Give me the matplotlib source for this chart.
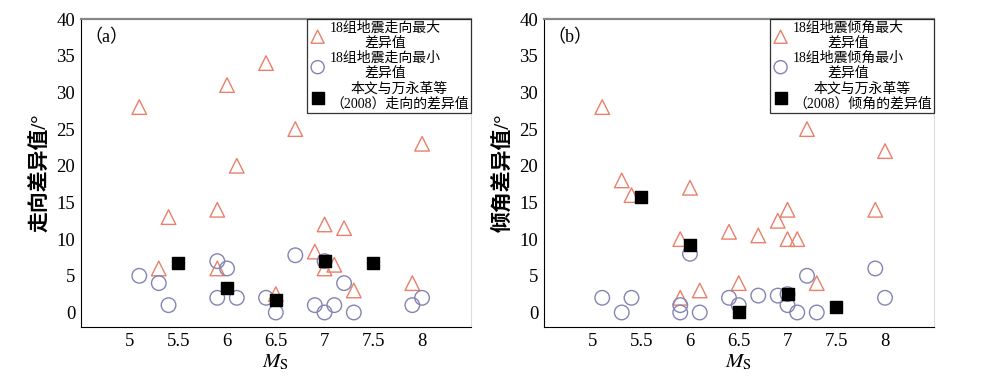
import numpy as np
import matplotlib
matplotlib.use("Agg")
import matplotlib.pyplot as plt

plt.rcParams['font.family'] = ['Liberation Serif', 'Noto Sans CJK SC']
plt.rcParams['mathtext.fontset'] = 'stix'

# 18 earthquakes magnitudes
ms = [5.1, 5.3, 5.4, 5.9, 5.9, 6.0, 6.1, 6.4, 6.5, 6.7, 6.9, 7.0, 7.0, 7.1, 7.2, 7.3, 7.9, 8.0]

# (a) strike
strike_max = [28, 6, 13, 14, 6, 31, 20, 34, 2.5, 25, 8.3, 12, 6, 6.5, 11.5, 3, 4, 23]
strike_min = [5, 4, 1, 7, 2, 6, 2, 2, 0, 7.8, 1, 0, 7, 1, 4, 0, 1, 2]
strike_ms_sq = [5.5, 6.0, 6.5, 7.0, 7.5]
strike_sq = [6.7, 3.3, 1.7, 7.0, 6.7]

# (b) dip
dip_max = [28, 18, 16, 10, 2, 17, 3, 11, 4, 10.5, 12.5, 14, 10, 10, 25, 4, 14, 22]
dip_min = [2, 0, 2, 1, 0, 8, 0, 2, 1, 2.3, 2.3, 1, 2.5, 0, 5, 0, 6, 2]
dip_ms_sq = [5.5, 6.0, 6.5, 7.0, 7.5]
dip_sq = [15.8, 9.2, 0, 2.5, 0.7]

panels = [
    ("（a）", "走向差异值/°", strike_max, strike_min, strike_ms_sq, strike_sq, "走向"),
    ("（b）", "倾角差异值/°", dip_max, dip_min, dip_ms_sq, dip_sq, "倾角"),
]

fig = plt.figure(figsize=(9.85, 3.89), dpi=100)
lefts = [0.082, 0.552]

for left, (lab, ylab, vmax, vmin, xsq, vsq, word) in zip(lefts, panels):
    ax = fig.add_axes([left, 0.159, 0.396, 0.792])
    ax.scatter(ms, vmax, marker='^', s=110, facecolors='none', edgecolors='#e8806a',
               linewidths=1.0, label="18组地震%s最大\n差异值" % word, zorder=2)
    ax.scatter(ms, vmin, marker='o', s=110, facecolors='none', edgecolors='#8484b4',
               linewidths=1.0, label="18组地震%s最小\n差异值" % word, zorder=2)
    ax.scatter(xsq, vsq, marker='s', s=80, color='black',
               label="本文与万永革等\n（2008）%s的差异值" % word, zorder=3)
    ax.set_xlim(4.5, 8.5)
    ax.set_ylim(-2, 40)
    ax.set_xticks([5, 5.5, 6, 6.5, 7, 7.5, 8])
    ax.set_xticklabels(['5', '5.5', '6', '6.5', '7', '7.5', '8'])
    ax.set_yticks(range(0, 41, 5))
    ax.tick_params(labelsize=13.5, length=0, pad=4)
    ax.set_xlabel("$M_{\\mathrm{S}}$", fontsize=15, labelpad=2)
    ax.set_ylabel(ylab, fontsize=15, labelpad=4, fontweight='bold')
    ax.text(0.01, 0.94, lab, transform=ax.transAxes, fontsize=13, va='center')
    for side in ['left', 'bottom']:
        ax.spines[side].set_color('black')
    ax.spines['top'].set_color('#888888')
    ax.spines['top'].set_linewidth(1.6)
    ax.spines['right'].set_color('#dddddd')
    leg = ax.legend(loc='upper right', fontsize=10, frameon=True, fancybox=False,
                    edgecolor='black', borderpad=0.15, labelspacing=0.15,
                    handlelength=1.2, handletextpad=0.3, borderaxespad=0.0,
                    markerscale=0.9)
    for t in leg.get_texts():
        t.set_ha('center')
        t.set_multialignment('center')
    leg.get_frame().set_linewidth(0.9)

plt.savefig("out.png", dpi=100)
